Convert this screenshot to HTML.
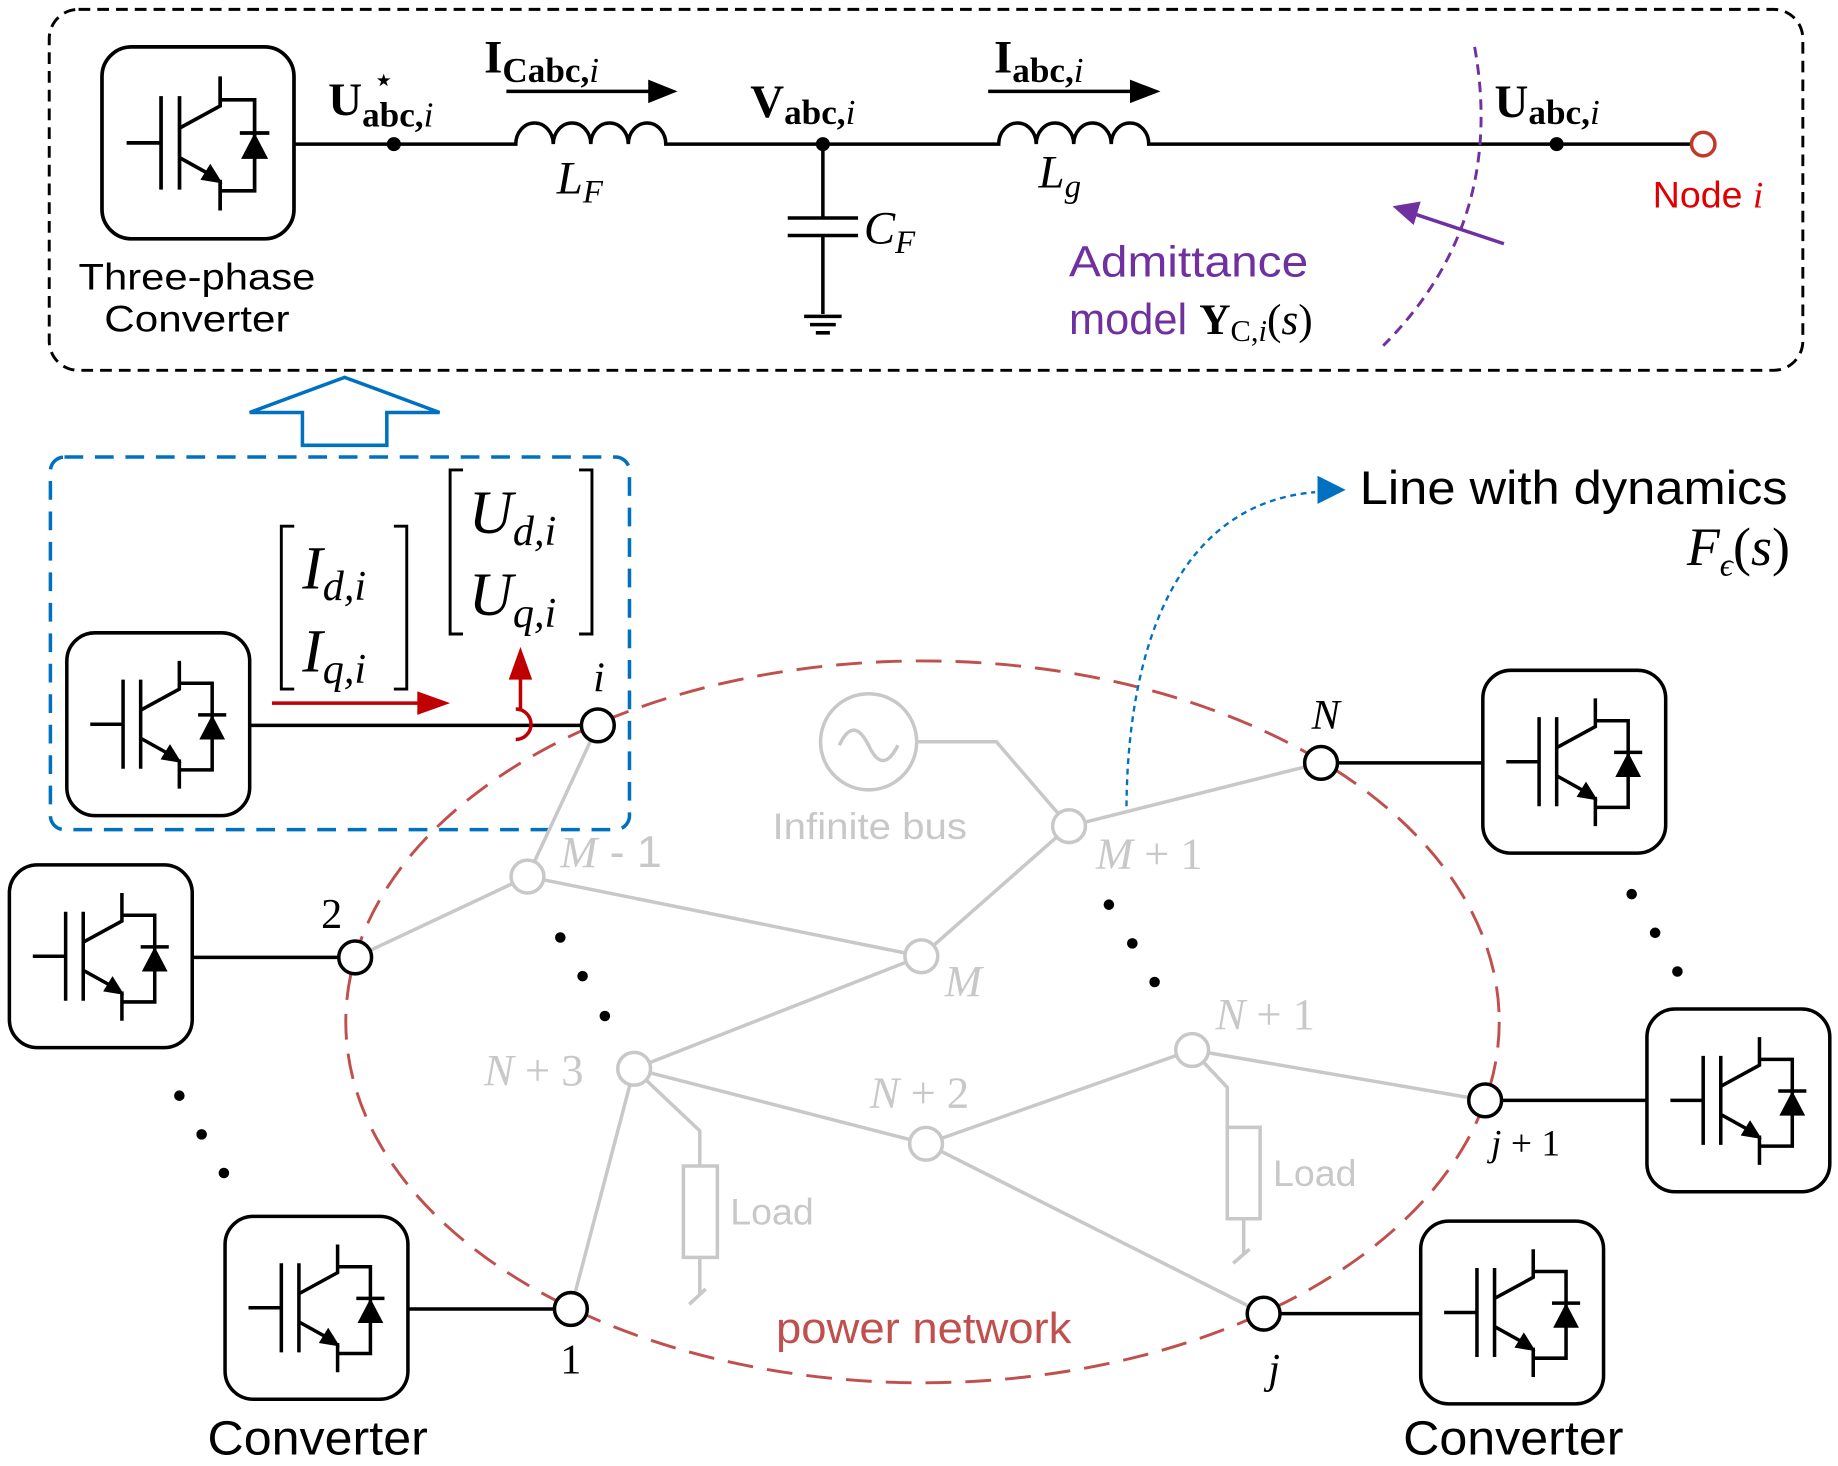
<!DOCTYPE html>
<html><head><meta charset="utf-8"><style>
html,body{margin:0;padding:0;background:#fff;}
svg{display:block;}
.s{font-family:"Liberation Sans",sans-serif;}
.m{font-family:"Liberation Serif",serif;}
</style></head><body>
<svg width="1838" height="1466" viewBox="0 0 1568 1251" preserveAspectRatio="none" xmlns="http://www.w3.org/2000/svg">
<defs>
<g id="conv">
<rect x="0" y="0" width="156" height="156" rx="24" fill="#fff" stroke="#000" stroke-width="3"/>
<g stroke="#000" stroke-width="3" fill="none">
<path d="M20 78 H48 M48 40 V116 M63 40 V116"/>
<path d="M63 66 L96 48 V24 M96 43 H124 V117 H96 M63 90 L90 105 M96 108 V133"/>
<path d="M112 70 H136"/>
</g>
<polygon points="98,111 80,108 88,95" fill="#000"/>
<polygon points="113,91 135,91 124,70" fill="#000"/>
</g>
</defs>

<rect x="42" y="8" width="1496" height="308" rx="25" fill="none" stroke="#000" stroke-width="2.5" stroke-dasharray="10 6"/>
<use href="#conv" transform="translate(87,40) scale(1.05)"/>
<text class="s" x="168" y="247" font-size="32" text-anchor="middle" textLength="202" lengthAdjust="spacingAndGlyphs">Three-phase</text>
<text class="s" x="168" y="283" font-size="32" text-anchor="middle" textLength="158" lengthAdjust="spacingAndGlyphs">Converter</text>
<g stroke="#000" stroke-width="3" fill="none">
<path d="M250 123 H440 a16 18 0 0 1 32 0 a16 18 0 0 1 32 0 a16 18 0 0 1 32 0 a16 18 0 0 1 32 0 H852 a16 18 0 0 1 32 0 a16 18 0 0 1 32 0 a16 18 0 0 1 32 0 a16 18 0 0 1 32 0 H1443"/>
<path d="M702 123 V186 M672 186 H732 M672 201 H732 M702 201 V268 M686 270 H718 M691 277 H713 M696 284 H708"/>
<path d="M432 78 H555 M843 78 H966"/>
</g>
<polygon points="553,68 578,78 553,88" fill="#000"/>
<polygon points="964,68 990,78 964,88" fill="#000"/>
<circle cx="336" cy="123" r="6" fill="#000"/>
<circle cx="702" cy="123" r="6" fill="#000"/>
<circle cx="1328" cy="123" r="6" fill="#000"/>
<circle cx="1453" cy="123" r="10" fill="#fff" stroke="#c0392b" stroke-width="3"/>
<text class="m" x="280" y="98" font-size="40" font-weight="bold">U<tspan font-size="30" dy="10">abc,</tspan><tspan font-size="30" font-style="italic" font-weight="normal">i</tspan><tspan font-size="30" x="318" dy="-30" font-weight="normal">⋆</tspan></text>
<text class="m" x="413" y="62" font-size="40" font-weight="bold">I<tspan font-size="30" dy="8">Cabc,</tspan><tspan font-size="30" font-style="italic" font-weight="normal">i</tspan></text>
<text class="m" x="640" y="100" font-size="40" font-weight="bold">V<tspan font-size="30" dy="6">abc,</tspan><tspan font-size="30" font-style="italic" font-weight="normal">i</tspan></text>
<text class="m" x="848" y="62" font-size="40" font-weight="bold">I<tspan font-size="30" dy="8">abc,</tspan><tspan font-size="30" font-style="italic" font-weight="normal">i</tspan></text>
<text class="m" x="1275" y="100" font-size="40" font-weight="bold">U<tspan font-size="30" dy="6">abc,</tspan><tspan font-size="30" font-style="italic" font-weight="normal">i</tspan></text>
<text class="m" x="475" y="165" font-size="40" font-style="italic">L<tspan font-size="28" dy="8">F</tspan></text>
<text class="m" x="886" y="160" font-size="40" font-style="italic">L<tspan font-size="28" dy="8">g</tspan></text>
<text class="m" x="737" y="208" font-size="40" font-style="italic">C<tspan font-size="28" dy="8">F</tspan></text>
<text class="s" x="1410" y="177" font-size="32" fill="#e00000">Node <tspan class="m" font-style="italic">i</tspan></text>
<text class="s" x="912" y="236" font-size="37" fill="#7030a0" textLength="204" lengthAdjust="spacingAndGlyphs">Admittance</text>
<text class="s" x="912" y="285" font-size="37" fill="#7030a0">model <tspan class="m" fill="#000" font-weight="bold">Y</tspan><tspan class="m" fill="#000" font-size="26" dy="6">C,<tspan font-style="italic">i</tspan></tspan><tspan class="m" fill="#000" dy="-6">(<tspan font-style="italic">s</tspan>)</tspan></text>
<path d="M1258 40 Q1285 190 1180 295" fill="none" stroke="#7030a0" stroke-width="2.5" stroke-dasharray="9 6"/>
<path d="M1283 208 L1205 182" stroke="#7030a0" stroke-width="3"/>
<polygon points="1188,176 1212,172 1206,192" fill="#7030a0"/>

<polygon points="258,380 258,352 213,352 294,322 375,352 330,352 330,380" fill="#fff" stroke="#0070c0" stroke-width="3"/>
<rect x="43" y="390" width="494" height="318" rx="12" fill="none" stroke="#0070c0" stroke-width="3" stroke-dasharray="16 10"/>

<ellipse cx="787" cy="872" rx="492" ry="308" fill="none" stroke="#c0504d" stroke-width="2.5" stroke-dasharray="22 12"/>
<text class="s" x="788" y="1146" font-size="37" fill="#c0504d" text-anchor="middle" textLength="252" lengthAdjust="spacingAndGlyphs">power network</text>

<g stroke="#c8c8c8" stroke-width="3" fill="none">
<path d="M510 619 L450 748 M303 817 L450 748 M450 748 L786 816 M786 816 L912 705 M912 705 L1127 651 M912 705 L850 633 H783"/>
<path d="M786 816 L541 912 M541 912 L487 1117 M541 912 L790 976 M790 976 L1017 896 M1017 896 L1267 939 M790 976 L1078 1121"/>
<path d="M541 912 L597 965 V995 M597 1073 V1105 M588 1113 L602 1100"/>
<rect x="583" y="995" width="29" height="78"/>
<path d="M1017 896 L1047 928 V962 M1061 1040 V1070 M1052 1078 L1066 1066"/>
<rect x="1047" y="962" width="28" height="78"/>
<circle cx="741" cy="633" r="41"/>
<path d="M716 636 q12 -26 25 0 q12 26 25 0"/>
</g>
<g fill="#fff" stroke="#c8c8c8" stroke-width="3">
<circle cx="450" cy="748" r="14"/><circle cx="786" cy="816" r="14"/><circle cx="912" cy="705" r="14"/>
<circle cx="541" cy="912" r="14"/><circle cx="790" cy="976" r="14"/><circle cx="1017" cy="896" r="14"/>
</g>
<g fill="#c8c8c8" font-size="38">
<text class="m" x="478" y="740" font-style="italic">M<tspan class="s" font-style="normal"> - 1</tspan></text>
<text class="s" x="742" y="716" font-size="32" text-anchor="middle" textLength="166" lengthAdjust="spacingAndGlyphs">Infinite bus</text>
<text class="m" x="935" y="741" font-style="italic">M<tspan font-style="normal"> + 1</tspan></text>
<text class="m" x="806" y="850" font-style="italic">M</text>
<text class="m" x="413" y="926" font-style="italic">N<tspan font-style="normal"> + 3</tspan></text>
<text class="m" x="742" y="945" font-style="italic">N<tspan font-style="normal"> + 2</tspan></text>
<text class="m" x="1037" y="878" font-style="italic">N<tspan font-style="normal"> + 1</tspan></text>
<text class="s" x="623" y="1045" font-size="32">Load</text>
<text class="s" x="1086" y="1012" font-size="32">Load</text>
</g>

<g stroke="#000" stroke-width="3">
<path d="M213 619 H496 M164 817 H289 M348 1117 H473 M1141 651 H1265 M1281 939 H1405 M1092 1121 H1212"/>
</g>
<use href="#conv" transform="translate(57,540)"/>
<use href="#conv" transform="translate(8,738)"/>
<use href="#conv" transform="translate(192,1038)"/>
<use href="#conv" transform="translate(1265,572)"/>
<use href="#conv" transform="translate(1405,861)"/>
<use href="#conv" transform="translate(1212,1042)"/>
<g fill="#fff" stroke="#000" stroke-width="3">
<circle cx="510" cy="619" r="14"/><circle cx="303" cy="817" r="14"/><circle cx="487" cy="1117" r="14"/>
<circle cx="1127" cy="651" r="14"/><circle cx="1267" cy="939" r="14"/><circle cx="1078" cy="1121" r="14"/>
</g>
<g class="m" font-size="36">
<text x="506" y="590" font-style="italic">i</text>
<text x="274" y="792">2</text>
<text x="478" y="1172">1</text>
<text x="1119" y="622" font-style="italic">N</text>
<text x="1272" y="986" font-size="32"><tspan font-style="italic">j</tspan> + 1</text>
<text x="1082" y="1180" font-style="italic">j</text>
<text class="s" x="271" y="1241" font-size="41" text-anchor="middle" textLength="188" lengthAdjust="spacingAndGlyphs">Converter</text>
<text class="s" x="1291" y="1241" font-size="41" text-anchor="middle" textLength="188" lengthAdjust="spacingAndGlyphs">Converter</text>
</g>
<g fill="#000">
<circle cx="478" cy="800" r="4.5"/><circle cx="497" cy="833" r="4.5"/><circle cx="516" cy="867" r="4.5"/>
<circle cx="153" cy="935" r="4.5"/><circle cx="172" cy="968" r="4.5"/><circle cx="191" cy="1001" r="4.5"/>
<circle cx="946" cy="772" r="4.5"/><circle cx="966" cy="805" r="4.5"/><circle cx="985" cy="838" r="4.5"/>
<circle cx="1392" cy="763" r="4.5"/><circle cx="1412" cy="796" r="4.5"/><circle cx="1431" cy="829" r="4.5"/>
</g>

<g stroke="#000" stroke-width="2.5" fill="none">
<path d="M251 449 H240 V588 H251 M336 449 H347 V588 H336"/>
<path d="M395 401 H384 V541 H395 M494 401 H505 V541 H494"/>
</g>
<g class="m" font-size="52" font-style="italic">
<text x="258" y="502">I<tspan font-size="36" dy="10">d,i</tspan></text>
<text x="258" y="573">I<tspan font-size="36" dy="10">q,i</tspan></text>
<text x="400" y="455">U<tspan font-size="36" dy="10">d,i</tspan></text>
<text x="400" y="525">U<tspan font-size="36" dy="10">q,i</tspan></text>
</g>
<path d="M232 600 H358" stroke="#c00000" stroke-width="3"/>
<polygon points="356,590 384,600 356,610" fill="#c00000"/>
<path d="M444 607 V575" stroke="#c00000" stroke-width="3"/>
<polygon points="434,580 444,552 454,580" fill="#c00000"/>
<path d="M440 605 A13 13 0 0 1 440 631" fill="none" stroke="#c00000" stroke-width="3"/>

<path d="M961 688 C962 560 1000 430 1122 420" fill="none" stroke="#0070c0" stroke-width="2" stroke-dasharray="5 4"/>
<polygon points="1124,406 1148,418 1124,430" fill="#0070c0"/>
<text class="s" x="1160" y="430" font-size="40" textLength="365" lengthAdjust="spacingAndGlyphs">Line with dynamics</text>
<text class="m" x="1527" y="482" font-size="46" font-style="italic" text-anchor="end">F<tspan font-size="28" dy="9">ϵ</tspan><tspan font-style="normal" dy="-9">(</tspan>s<tspan font-style="normal">)</tspan></text>
</svg>
</body></html>
